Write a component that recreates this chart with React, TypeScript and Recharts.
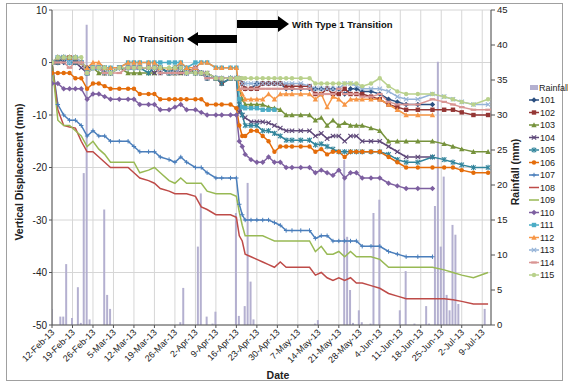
import React from "react";
import { ComposedChart, Line, Bar, XAxis, YAxis, CartesianGrid, Legend } from "recharts";

// ---- tick labels (one per week, starting 12-Feb-13) ----
const dateLabels = [
  "12-Feb-13", "19-Feb-13", "26-Feb-13", "5-Mar-13", "12-Mar-13", "19-Mar-13", "26-Mar-13",
  "2-Apr-13", "9-Apr-13", "16-Apr-13", "23-Apr-13", "30-Apr-13", "7-May-13", "14-May-13",
  "21-May-13", "28-May-13", "4-Jun-13", "11-Jun-13", "18-Jun-13", "25-Jun-13", "2-Jul-13", "9-Jul-13",
];
const tickDays = dateLabels.map((_, i) => i * 7);

// ---- survey days (days after 12-Feb-13) ----
const measureDays = [
  0, 2, 4, 6, 8, 10, 12, 14, 16, 18, 20, 23, 26, 28, 30, 33, 35, 37, 40, 42, 44, 46, 49, 51, 53, 56, 58, 61, 63,
  64, 65, 66, 68, 70, 72, 74, 76, 78, 80, 82, 85, 88, 90, 92, 94, 96, 98, 100, 102, 104, 106, 109, 112, 115, 118,
  121, 125, 130, 134, 137, 140, 144, 149,
];

// ---- vertical displacement (mm) ----
const s101 = [0, 1, 0, 1, 1, 0, -1, -1, -1, -2, -2, -1, -1, -1, -1, -1, -1, -1, -2, -1, -1, -2, -1, -2, -3, -3, -3, -3, -3,
  -3, -4, -5, -5, -4, -4, -4, -4, -4, -5, -5, -5, -5, -5, -5, -5, -5, -5, -6, -5, -5, -5.5, -5.5, -6, -7, -7.5, -8, -8, -8, null, null, null, null, null];
const s102 = [0, 0, 1, 1, 0, 0, -2, -1, -1, -2, -2, -1, -1, -1, -1, -1, -1, -2, -2, -2, -1, -2, -2, -2, -3, -3, -4, -3, -3,
  -3, -4, -5, -5, -5, -4, -4, -4, -4, -4.5, -4.5, -4.5, -4.5, -6, -6, -5, -6, -6, -5, -6, -6, -6, -6.5, -7, -8, -8.5, -9, -9, -9, -9, -9, -9.5, -10, -10];
const s103 = [0, 1, 1, 1, 1, 0, -2, -1, -2, -2, -2, -1, -2, -2, -2, -2, -2, -1, -2, -2, -2, -1, -2, -2, -2, -3, -3, -3, -3,
  -5, -7, -8, -8, -8, -8, -8.5, -8.7, -9, -10, -10, -10, -10, -11, -10.5, -12, -11, -12, -11.5, -12, -12, -12, -12.5, -13, -15, -15, -15, -15, -15, -15.5, -16, -16.5, -17, -17];
const s104 = [0, 0, 1, 0, 0, -1, -2, -1, -1, -2, -2, -1, -1, -1, -1, -1, -2, -1, -2, -2, -2, -2, -1, -2, -2, -3, -3, -3, -3,
  -9.5, -10, -10.5, -11.3, -11.3, -11.3, -11.5, -12, -12.5, -13, -13, -13, -13, -14, -13.5, -14.5, -14, -14, -15, -14, -14, -15, -15, -15, -16, -17, -18, -18, -18, null, null, null, null, null];
const s105 = [0, 0, 1, 0, 0, 0, -2, -1, -1, -1, -2, -1, -1, -1, -1, -2, -1, -1, -2, -1, -1, -2, -2, -2, -3, -3, -4, -3, -3,
  -8, -10, -12, -12, -12, -13, -13, -13.5, -14, -14.8, -14.8, -14.8, -14.8, -15.7, -15.5, -16, -16.5, -17, -17, -17, -17, -17, -17, -17, -17.5, -18.5, -19, -19, -18, -18.5, -19, -19.5, -20, -20];
const s106 = [-2, -2, -2, -2, -3, -3, -5, -4, -4, -4.5, -5, -5, -5, -5, -6, -6, -6, -7, -7, -7, -7, -7, -7, -7, -8, -8, -8, -8, -8.7,
  -12, -14, -14, -13, -13, -14, -15, -17, -16, -16, -16, -16, -16, -17, -16.5, -17.5, -17, -17, -18, -17, -17, -17, -17, -17, -18, -19, -20, -20, -20, -20, -20, -20.5, -21, -21];
const s107 = [0, -8, -10, -11, -11, -12, -14, -13, -14, -14, -15, -15, -15, -16, -17, -17, -17, -18, -18.5, -19, -18, -19, -20, -20, -21, -22, -22, -22, -22,
  -27, -29, -30, -30, -30, -30, -30, -30.5, -31, -32, -32, -32, -32, -33.5, -33, -33, -34, -34, -34, -34, -34, -35, -35, -35, -36, -36.5, -37, -37, -37, null, null, null, null, null];
const s108 = [0, -9, -12, -12.3, -12.5, -15, -17, -17, -18, -19, -20, -20, -20, -21, -22, -22.5, -23, -24, -24.5, -25, -25, -25, -25.5, -27.5, -28, -29, -29, -29, -29.5,
  -33, -34, -36.5, -37, -37.5, -38, -38.5, -39, -38, -39, -39, -39, -39, -40.5, -40, -41, -41.5, -41, -41.5, -41, -42, -42, -42.5, -43, -44, -44.5, -45, -45, -45, -45, -45.2, -45.5, -46, -46];
const s109 = [0, -11, -12, -12, -13, -14, -16, -15, -16.5, -17.5, -19, -19, -19, -19, -21, -20.5, -20, -21, -22.5, -23, -22, -23, -23, -23, -24.5, -25, -25, -25, -25.5,
  -28.5, -31, -33, -33, -33, -33, -33.5, -34, -34, -34, -34, -34, -34, -36, -35, -36.5, -36.5, -36, -37, -36, -37, -37, -37, -37.5, -39, -39, -39, -39, -39, -39.5, -40, -40.5, -41, -40];
const s110 = [-4, -4, -5, -5, -5, -5, -7, -6, -6, -6.5, -7, -7, -7, -7, -8, -8, -8, -9, -9, -8.5, -8, -9, -9, -9.5, -10, -10, -10, -10, -10,
  -15, -16, -17.5, -18.5, -19, -19, -18, -19, -19, -20, -20, -20, -20, -21, -20.5, -21, -21.5, -20.5, -22, -21, -21, -22, -22, -22, -23, -23.5, -24, -24, -24, null, null, null, null, null];
const s111 = [0, 1, 1, 0, 1, 0, -2, -1, -1, -1, -1, -1, 0, 0, 0, 0, 0, 0, 0, 0, 0, -1, 0, 0, 0, -1, -1, -1, -1,
  -7, -8.5, -8.7, -8.7, -8.7, -9, -9, -9, null, null, null, null, null, null, null, null, null, null, null, null, null, null, null, null, null, null, null, null, null, null, null, null, null, null];
const s112 = [0, 1, 1, 1, 1, 0, -1, 0, 0, -1, -1, -1, 0, 0, 0, 0, 0, -1, -1, -1, 0, -1, -1, 0, 0, -1, -1, -1, -1,
  -5, -6, -7, -7, -7, -7, -6, -7, -6, -6, -6, -6, -6, -7, -6, -8.5, -6.5, -7, -8, -7, -7, -7, -7, -7, -8, -9, -10, -10, -10, null, null, null, null, null];
const s113 = [0, 1, 1, 0, 1, 0, -2, -1, -1, -2, -2, -1, -1, -1, -1, -1, -1, -2, -2, -2, -1, -2, -2, -2, -3, -3, -3, -3, -3,
  -3, -4, -4, -4, -4, -4, -4, -4, -4, -4, -4, -4, -4.5, -5, -5, -5, -5, -5, -4, -4, -4.5, -5, -5, -5, -5.5, -6.5, -7, -7, -6, -6.5, -7, -7.5, -8, -8];
const s114 = [0, 0, 0, -1, 0, 0, -2, -1, -1, -2, -2, -2, -1, -1, -1, -1, -1, -2, -2, -2, -2, -2, -1, -2, -3, -3, -3, -3, -3,
  -3, -5, -5, -5, -5, -5, -5, -5, -5, -5, -5, -5, -5, -6, -6, -6, -6, -5, -6, -6, -6, -6.5, -6.5, -6, -7.5, -8, -8, -8, -7, -7.5, -8, -8.5, -9, -9];
const s115 = [0, 1, 1, 1, 1, 1, -2, -1, -1, -1, -2, -1, -1, -1, -1, -1, -1, -1, -1, -1, -1, -2, -2, -2, -2, -3, -3, -3, -3,
  -3, -3, -3, -3, -3, -3, -3, -3, -3, -3, -3, -3, -3, -4, -4, -4, -4, -4, -4, -4, -4, -4.5, -4, -3, -4.5, -5.5, -6, -6, -6, -6.5, -7, -7.5, -8, -7];

// ---- daily rainfall (mm) ----
const rainDays = [0, 3, 4, 5, 7, 9, 10, 11, 12, 13, 18, 19, 20, 44, 45, 50, 51, 53, 55, 56, 63, 64, 66, 67, 68, 69, 90, 91,
  100, 101, 102, 103, 105, 106, 109, 110, 112, 119, 121, 124, 128, 129, 131, 132, 133, 134, 135, 136, 137, 138, 139, 148];
const rainMm = [2.3, 1.2, 1.2, 8.7, 1.0, 5.4, 0.3, 21.7, 42.9, 0.8, 16.5, 4.3, 2.3, 0.4, 5.3, 11.2, 18.8, 1.2, 0.2, 1.9, 16, 1.3, 2.7, 20.3, 6.2, 0.8, 0.2, 0.7,
  23.6, 12.6, 5, 0.3, 2.1, 0.4, 0.2, 16, 17.9, 2.1, 7.7, 0.2, 2.7, 0.2, 17, 37.6, 11.2, 21.2, 4.3, 2.1, 14.3, 12.9, 3, 2.3];

type Shape = "diamond" | "square" | "triangle" | "x" | "star" | "circle" | "plus" | "dash" | "none";

const seriesList: { id: string; values: (number | null)[]; color: string; shape: Shape }[] = [
  { id: "101", values: s101, color: "#2b4f80", shape: "diamond" },
  { id: "102", values: s102, color: "#943634", shape: "square" },
  { id: "103", values: s103, color: "#76923c", shape: "triangle" },
  { id: "104", values: s104, color: "#5f497a", shape: "x" },
  { id: "105", values: s105, color: "#31849b", shape: "star" },
  { id: "106", values: s106, color: "#e46c0a", shape: "circle" },
  { id: "107", values: s107, color: "#4a7ebb", shape: "plus" },
  { id: "108", values: s108, color: "#be4b48", shape: "none" },
  { id: "109", values: s109, color: "#98b954", shape: "none" },
  { id: "110", values: s110, color: "#7d5fa0", shape: "diamond" },
  { id: "111", values: s111, color: "#4bacc6", shape: "square" },
  { id: "112", values: s112, color: "#f79646", shape: "triangle" },
  { id: "113", values: s113, color: "#95b3d7", shape: "x" },
  { id: "114", values: s114, color: "#d99694", shape: "dash" },
  { id: "115", values: s115, color: "#b9d18c", shape: "circle" },
];
const rainColor = "#b4b0d0";

const rows = (() => {
  const map = new Map<number, any>();
  const get = (d: number) => {
    if (!map.has(d)) map.set(d, { day: d });
    return map.get(d);
  };
  measureDays.forEach((d, i) => {
    const r = get(d);
    seriesList.forEach((s) => {
      r["s" + s.id] = s.values[i];
    });
  });
  rainDays.forEach((d, i) => {
    get(d).rain = rainMm[i];
  });
  return Array.from(map.values()).sort((a, b) => a.day - b.day);
})();

const Marker = ({ shape, color, x, y }: { shape: Shape; color: string; x: number; y: number }) => {
  const r = 2.2;
  switch (shape) {
    case "diamond":
      return <polygon points={`${x},${y - r - 0.5} ${x + r + 0.5},${y} ${x},${y + r + 0.5} ${x - r - 0.5},${y}`} fill={color} />;
    case "square":
      return <rect x={x - r} y={y - r} width={2 * r} height={2 * r} fill={color} />;
    case "triangle":
      return <polygon points={`${x},${y - r - 0.5} ${x + r + 0.5},${y + r} ${x - r - 0.5},${y + r}`} fill={color} />;
    case "x":
      return (
        <g stroke={color} strokeWidth={1.1}>
          <line x1={x - r} y1={y - r} x2={x + r} y2={y + r} />
          <line x1={x - r} y1={y + r} x2={x + r} y2={y - r} />
        </g>
      );
    case "star":
      return (
        <g stroke={color} strokeWidth={1.1}>
          <line x1={x - r} y1={y - r} x2={x + r} y2={y + r} />
          <line x1={x - r} y1={y + r} x2={x + r} y2={y - r} />
          <line x1={x} y1={y - r - 0.5} x2={x} y2={y + r + 0.5} />
        </g>
      );
    case "circle":
      return <circle cx={x} cy={y} r={r} fill={color} />;
    case "plus":
      return (
        <g stroke={color} strokeWidth={1}>
          <line x1={x - r} y1={y} x2={x + r} y2={y} />
          <line x1={x} y1={y - r} x2={x} y2={y + r} />
        </g>
      );
    case "dash":
      return <rect x={x - 2.8} y={y - 1.1} width={5.6} height={2.2} fill={color} />;
    default:
      return null;
  }
};

const makeDot = (shape: Shape, color: string, id: string) => (props: any) => {
  const { cx, cy, index, value } = props;
  const key = `dot-${id}-${index}`;
  if (value == null || cx == null || cy == null || isNaN(cx) || isNaN(cy)) return <g key={key} />;
  return (
    <g key={key}>
      <Marker shape={shape} color={color} x={cx} y={cy} />
    </g>
  );
};

const XTick = (props: any) => {
  const { x, y, payload } = props;
  const idx = tickDays.indexOf(payload.value);
  const label = idx >= 0 ? dateLabels[idx] : "";
  const ax = x + 3;
  const ay = y + 3;
  return (
    <text x={ax} y={ay} transform={`rotate(-45 ${ax} ${ay})`} textAnchor="end" fontSize={9} fill="#222">
      {label}
    </text>
  );
};

const renderLegend = () => {
  const rowH = 12.5;
  return (
    <svg width={44} height={210} style={{ overflow: "visible" }}>
      <rect x={4} y={7.5 - 2.5} width={8} height={5} fill={rainColor} />
      <text x={13} y={7.5} dominantBaseline="central" fontSize={9} fill="#222">Rainfall</text>
      {seriesList.map((s, i) => {
        const cy = 7.5 + (i + 1) * rowH;
        return (
          <g key={s.id}>
            <line x1={3} y1={cy} x2={13} y2={cy} stroke={s.color} strokeWidth={1.5} />
            <Marker shape={s.shape} color={s.color} x={8} y={cy} />
            <text x={14} y={cy} dominantBaseline="central" fontSize={9} fill="#222">{s.id}</text>
          </g>
        );
      })}
    </svg>
  );
};

export default function App() {
  return (
    <div
      style={{
        position: "absolute",
        left: 0,
        top: 0,
        width: 568,
        height: 386,
        background: "#fff",
        fontFamily: '"Liberation Sans", Arial, sans-serif',
      }}
    >
      <div
        style={{
          position: "absolute",
          left: 6,
          top: 3,
          width: 557,
          height: 378,
          border: "1.5px solid #a0a0a0",
          boxSizing: "border-box",
        }}
      />
      <div style={{ position: "absolute", left: 0, top: 0 }}>
        <ComposedChart width={568} height={386} data={rows} margin={{ top: 10, right: 47, bottom: 11, left: 0 }}>
          <CartesianGrid yAxisId="left" stroke="#d6d6d6" strokeWidth={1} />
          <XAxis
            dataKey="day"
            type="number"
            domain={[0, 150]}
            ticks={tickDays}
            interval={0}
            height={50}
            tick={<XTick />}
            tickSize={3}
            stroke="#555"
            allowDataOverflow
          />
          <YAxis
            yAxisId="left"
            domain={[-50, 10]}
            ticks={[-50, -40, -30, -20, -10, 0, 10]}
            width={52}
            tickSize={3}
            tickMargin={2}
            stroke="#555"
            tick={{ fontSize: 10, fill: "#222" }}
            allowDataOverflow
          />
          <YAxis
            yAxisId="right"
            orientation="right"
            domain={[0, 45]}
            ticks={[0, 5, 10, 15, 20, 25, 30, 35, 40, 45]}
            width={30}
            tickSize={4}
            tickMargin={2}
            stroke="#555"
            tick={{ fontSize: 9.5, fill: "#222", textAnchor: "start" }}
            allowDataOverflow
          />
          <Legend
            layout="vertical"
            align="center"
            verticalAlign="middle"
            wrapperStyle={{ left: 526, top: 80, width: 44 }}
            content={renderLegend}
          />
          <Bar yAxisId="right" dataKey="rain" fill={rainColor} barSize={2} isAnimationActive={false} />
          {seriesList.map((s) => (
            <Line
              key={s.id}
              yAxisId="left"
              type="linear"
              dataKey={"s" + s.id}
              stroke={s.color}
              strokeWidth={1.5}
              connectNulls
              dot={s.shape === "none" ? false : makeDot(s.shape, s.color, s.id)}
              activeDot={false}
              isAnimationActive={false}
            />
          ))}
        </ComposedChart>
      </div>
      <svg
        width={568}
        height={386}
        style={{ position: "absolute", left: 0, top: 0, pointerEvents: "none" }}
      >
        <text transform="translate(23,172) rotate(-90)" textAnchor="middle" fontSize={10.5} fontWeight="bold" fill="#222">
          Vertical Displacement (mm)
        </text>
        <text transform="translate(519,172) rotate(-90)" textAnchor="middle" fontSize={10.5} fontWeight="bold" fill="#222">
          Rainfall (mm)
        </text>
        <text x={278} y={379} textAnchor="middle" fontSize={10.5} fontWeight="bold" fill="#222">
          Date
        </text>
        <polygon points="187,39 198,32 198,35 237,35 237,43 198,43 198,46" fill="#000" />
        <text x={184} y={42} textAnchor="end" fontSize={9.5} fontWeight="bold" fill="#111">
          No Transition
        </text>
        <polygon points="237,20 278,20 278,16 289,24 278,32 278,28 237,28" fill="#000" />
        <text x={292} y={27.5} fontSize={9.5} fontWeight="bold" fill="#111">
          With Type 1 Transition
        </text>
      </svg>
    </div>
  );
}
